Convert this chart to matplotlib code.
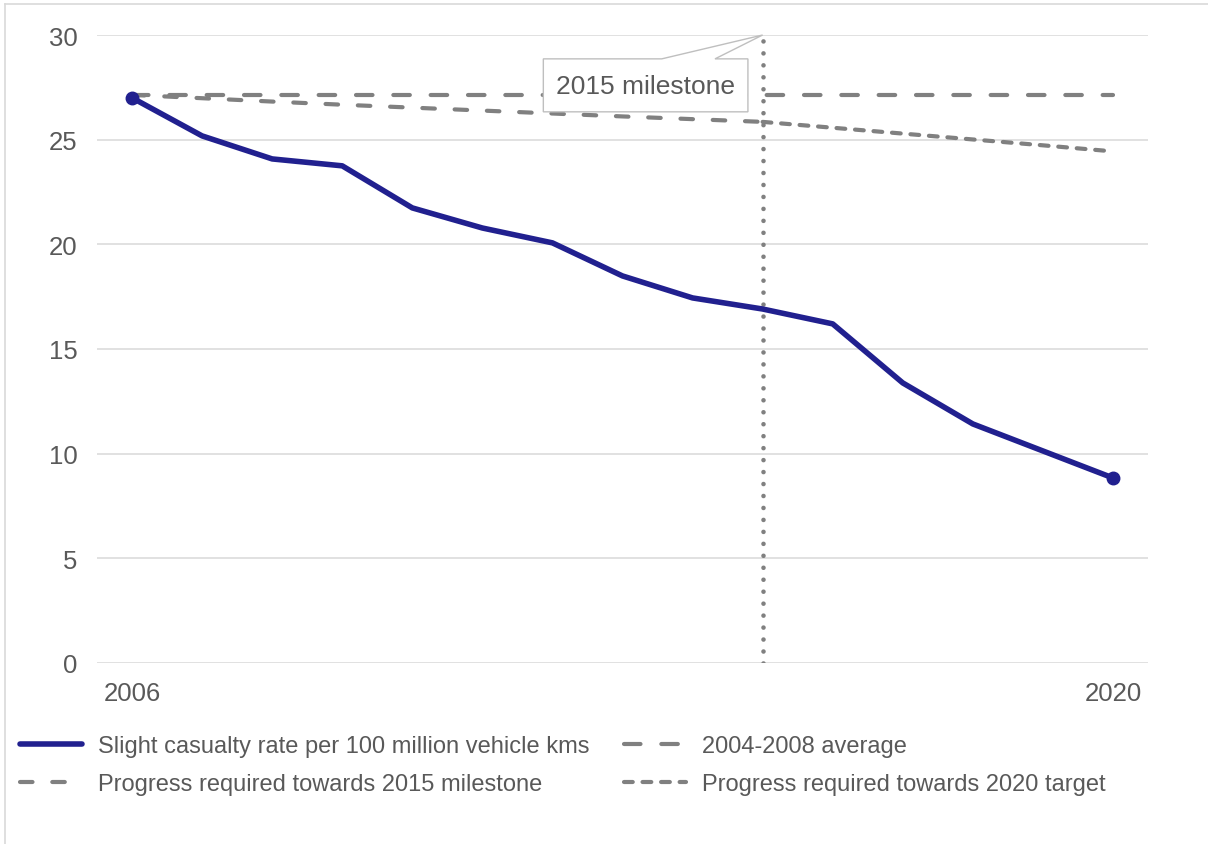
import matplotlib
matplotlib.use("Agg")
import matplotlib.pyplot as plt
from matplotlib.lines import Line2D
from matplotlib.patches import Polygon

plt.rcParams['font.family'] = ['Liberation Sans', 'DejaVu Sans']

# Slight casualty rate per 100 million vehicle kms
years = [2006, 2007, 2008, 2009, 2010, 2011, 2012, 2013, 2014, 2015,
         2016, 2017, 2018, 2019, 2020]
slight_rate = [27.0, 25.18, 24.08, 23.75, 21.74, 20.78, 20.07, 18.49, 17.44,
               16.91, 16.20, 13.38, 11.42, 10.13, 8.84]

# 2004-2008 baseline average
avg_years = [2006, 2020]
avg_rate = [27.14, 27.14]

# Trajectory required to hit the 2015 milestone
milestone_years = [2006, 2007, 2008, 2009, 2010, 2011, 2012, 2013, 2014, 2015]
milestone_rate = [27.14, 26.98, 26.82, 26.67, 26.53, 26.39, 26.25, 26.11,
                  25.98, 25.85]

# Trajectory required to hit the 2020 target
target_years = [2015, 2016, 2017, 2018, 2019, 2020]
target_rate = [25.85, 25.57, 25.29, 25.01, 24.73, 24.44]

milestone_year = 2015
y_ticks = [0, 5, 10, 15, 20, 25, 30]
x_ticks = [2006, 2020]

BLUE = "#21208f"
GREY = "#808080"
TEXT = "#595959"
GRID = "#d9d9d9"

W, H = 1208, 845
fig = plt.figure(figsize=(W / 100, H / 100), dpi=100)
ax = fig.add_axes([97 / W, 1 - 664 / H, (1148 - 97) / W, (664 - 36) / H])

lw_grey = 3.0
ax.plot(avg_years, avg_rate, color=GREY, lw=lw_grey,
        linestyle=(0, (3.96, 5.0)), dash_capstyle='round', zorder=3,
        label="2004-2008 average")
ax.plot(milestone_years, milestone_rate, color=GREY, lw=lw_grey,
        linestyle=(0, (3.0, 4.75)), dash_capstyle='round', zorder=3,
        label="Progress required towards 2015 milestone")
ax.plot(target_years, target_rate, color=GREY, lw=lw_grey,
        linestyle=(0, (2.1, 2.35)), dash_capstyle='round', zorder=3,
        label="Progress required towards 2020 target")
ax.plot(years, slight_rate, color=BLUE, lw=4.0, solid_capstyle='round',
        solid_joinstyle='round', marker='o', markersize=9,
        markevery=[0, len(years) - 1], zorder=4,
        label="Slight casualty rate per 100 million vehicle kms")

# Vertical dotted marker at the milestone year
ax.plot([milestone_year, milestone_year], [y_ticks[0], y_ticks[-1]],
        color=GREY, lw=3.3, linestyle=(0, (0.01, 2.6)),
        dash_capstyle='round', zorder=3)

ax.set_xlim(2005.5, 2020.5)
ax.set_ylim(0, 30)
ax.set_yticks(y_ticks)
ax.set_xticks(x_ticks)
ax.yaxis.grid(True, color=GRID, lw=1.1)
ax.set_axisbelow(True)
for s in ax.spines.values():
    s.set_visible(False)
ax.tick_params(axis='both', length=0, labelsize=18.5, colors=TEXT)
ax.tick_params(axis='y', pad=14)
ax.tick_params(axis='x', pad=13)

# Callout box for the milestone
L, R, B, T = 2011.87, 2014.79, 26.33, 28.86
p1, p2 = 2013.56, 2014.32
callout = Polygon([(L, B), (L, T), (p1, T), (milestone_year, 30), (p2, T),
                   (R, T), (R, B)], closed=True, facecolor='white',
                  edgecolor="#bfbfbf", lw=1.0, zorder=5, clip_on=False)
ax.add_patch(callout)
ax.text((L + R) / 2, (B + T) / 2 - 0.05, "2015 milestone", ha='center',
        va='center', fontsize=19, color=TEXT, zorder=6)

# Legend in two columns
handles, labels = ax.get_legend_handles_labels()
order = [3, 1, 0, 2]
leg = fig.legend([handles[i] for i in order], [labels[i] for i in order],
                 loc='upper left', bbox_to_anchor=(20 / W, 1 - 736 / H),
                 ncol=2, frameon=False, fontsize=17, labelcolor=TEXT,
                 handlelength=2.63, handletextpad=0.68, columnspacing=1.44,
                 labelspacing=0.68, borderaxespad=0, borderpad=0)
for h in leg.legend_handles:
    h.set_marker('None')

# Outer frame lines along the top and left
fig.add_artist(Line2D([5 / W, 1], [1 - 5 / H, 1 - 5 / H], color=GRID, lw=1.2,
                      transform=fig.transFigure))
fig.add_artist(Line2D([5 / W, 5 / W], [0, 1 - 5 / H], color=GRID, lw=1.2,
                      transform=fig.transFigure))

fig.savefig("out.png", dpi=100, facecolor='white')
